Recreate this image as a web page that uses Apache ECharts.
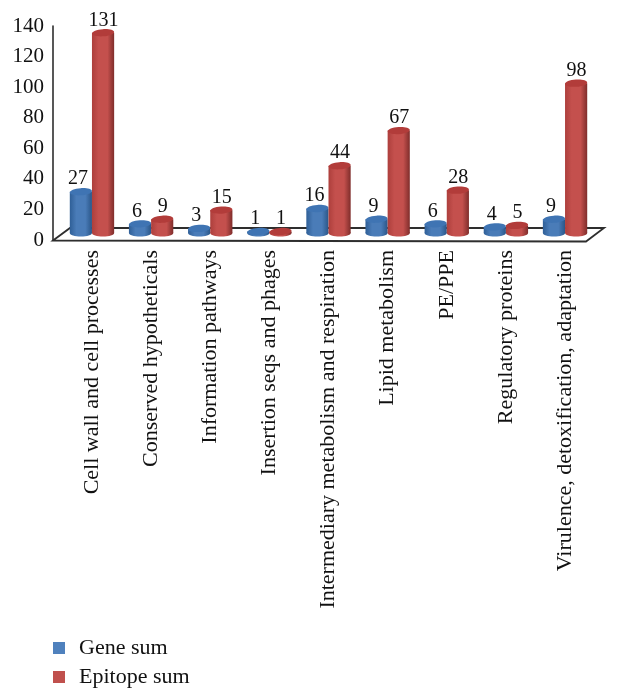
<!DOCTYPE html>
<html><head><meta charset="utf-8">
<style>html,body{margin:0;padding:0;background:#fff}#c{width:618px;height:700px}</style>
<script src="https://cdn.jsdelivr.net/npm/echarts@6/dist/echarts.min.js"></script>
</head><body><div id="c"></div>
<script>
const categories = ["Cell wall and cell processes","Conserved hypotheticals","Information pathways","Insertion seqs and phages","Intermediary metabolism and respiration","Lipid metabolism","PE/PPE","Regulatory proteins","Virulence, detoxification, adaptation"];
const geneSum = [27,6,3,1,16,9,6,4,9];
const epitopeSum = [131,9,15,1,44,67,28,5,98];
const seriesNames = ["Gene sum","Epitope sum"];
const FONT = '"Liberation Serif"';

function cylinder(side, colors) {
  return function (params, api) {
    const cat = api.value(0), val = api.value(1);
    const band = api.size([1, 0])[0];
    const w = band * 0.375;
    const base = api.coord([cat, 0]);
    const top = api.coord([cat, val]);
    const x = base[0] + (side < 0 ? -w : 0);
    const cx = x + w / 2, ry = 3.6;
    const grad = new echarts.graphic.LinearGradient(0, 0, 1, 0, [
      {offset: 0, color: colors[0]},
      {offset: 0.3, color: colors[1]},
      {offset: 0.7, color: colors[1]},
      {offset: 1, color: colors[2]}
    ]);
    return {type: 'group', children: [
      {type: 'ellipse', shape: {cx, cy: base[1], rx: w / 2, ry}, style: {fill: grad}},
      {type: 'rect', shape: {x, y: top[1], width: w, height: base[1] - top[1]}, style: {fill: grad}},
      {type: 'ellipse', shape: {cx, cy: top[1], rx: w / 2, ry}, rotation: 0.07, originX: cx, originY: top[1], style: {fill: colors[3]}},
      {type: 'text', style: {text: String(val), x: cx + (side < 0 ? -3 : 0.5), y: top[1] - 12.5, align: 'center', verticalAlign: 'middle', font: '20px ' + FONT, fill: '#111'}}
    ]};
  };
}

const chart = echarts.init(document.getElementById('c'), null, {renderer: 'canvas'});
chart.setOption({
  animation: false,
  backgroundColor: '#fff',
  graphic: [
    {type: 'polygon', z: 0, shape: {points: [[53,240.5],[70,228],[604,228],[586,241.5]]}, style: {fill: '#fff', stroke: '#2e2e2e', lineWidth: 1.8}}
  ],
  legend: {
    orient: 'vertical', left: 48, top: 632, itemWidth: 12, itemHeight: 12, itemGap: 7,
    icon: 'rect', data: seriesNames,
    textStyle: {fontFamily: FONT, fontSize: 22, color: '#111', padding: [0,0,0,9], lineHeight: 21}
  },
  grid: [
    {left: 53, right: 555, top: 26, height: 214, containLabel: false},
    {left: 62.4, width: 532.2, top: 19, height: 214}
  ],
  xAxis: [
    {gridIndex: 0, type: 'category', data: [''], axisLine: {show: false}, axisTick: {show: false}, axisLabel: {show: false}},
    {gridIndex: 1, type: 'category', data: categories, offset: 9,
     axisLine: {show: false}, axisTick: {show: false},
     axisLabel: {rotate: 90, interval: 0, margin: 8, fontFamily: FONT, fontSize: 22, color: '#111'}}
  ],
  yAxis: [
    {gridIndex: 0, type: 'value', min: 0, max: 140, interval: 20,
     axisLine: {show: true, lineStyle: {color: '#2e2e2e', width: 1.6}}, axisTick: {show: false}, splitLine: {show: false},
     axisLabel: {margin: 9, fontFamily: FONT, fontSize: 21, color: '#111'}},
    {gridIndex: 1, type: 'value', min: 0, max: 140, interval: 20, show: false}
  ],
  series: [
    {name: seriesNames[0], type: 'custom', xAxisIndex: 1, yAxisIndex: 1, z: 3,
     itemStyle: {color: '#4f81bd'},
     data: geneSum.map((v, i) => [i, v]),
     renderItem: cylinder(-1, ['#2f5f97', '#4a7cb8', '#2a5688', '#3f74b3'])},
    {name: seriesNames[1], type: 'custom', xAxisIndex: 1, yAxisIndex: 1, z: 4,
     itemStyle: {color: '#c0504d'},
     data: epitopeSum.map((v, i) => [i, v]),
     renderItem: cylinder(1, ['#ad3f3c', '#c4504d', '#7f2d2b', '#b23c3a'])}
  ]
});
</script></body></html>
